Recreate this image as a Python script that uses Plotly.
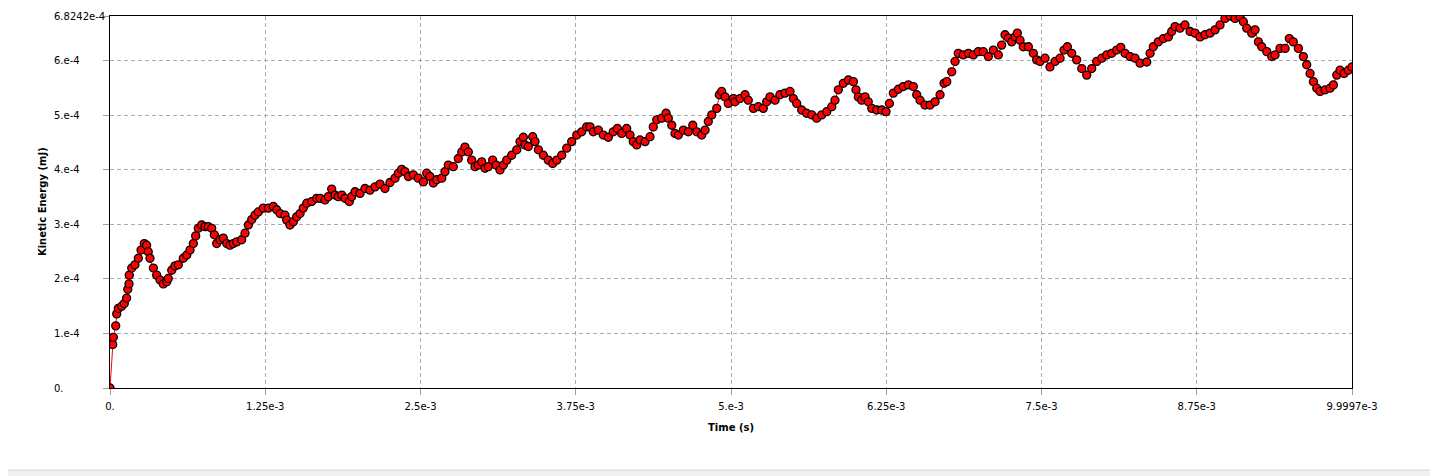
import plotly.graph_objects as go

# Time (ms) and kinetic energy (x1e-4 mJ)
time_ms = [
    0.0, 0.022, 0.027, 0.046, 0.054, 0.067, 0.094, 0.115, 0.134, 0.143,
    0.153, 0.155, 0.175, 0.201, 0.228, 0.250, 0.276, 0.295, 0.308, 0.322,
    0.349, 0.376, 0.403, 0.429, 0.457, 0.469, 0.497, 0.523, 0.550, 0.590,
    0.618, 0.644, 0.671, 0.690, 0.711, 0.738, 0.765, 0.791, 0.819, 0.840,
    0.859, 0.886, 0.912, 0.940, 0.966, 0.993, 1.020, 1.060, 1.087, 1.114,
    1.141, 1.167, 1.194, 1.234, 1.275, 1.315, 1.342, 1.369, 1.409, 1.423,
    1.449, 1.476, 1.503, 1.530, 1.556, 1.584, 1.624, 1.664, 1.691, 1.731,
    1.758, 1.785, 1.812, 1.838, 1.866, 1.892, 1.927, 1.946, 1.973, 2.013,
    2.053, 2.093, 2.134, 2.174, 2.214, 2.254, 2.295, 2.321, 2.349, 2.375,
    2.402, 2.442, 2.482, 2.523, 2.550, 2.576, 2.603, 2.630, 2.671, 2.697,
    2.724, 2.764, 2.804, 2.832, 2.858, 2.885, 2.912, 2.939, 2.965, 2.993,
    3.019, 3.046, 3.081, 3.108, 3.140, 3.167, 3.194, 3.234, 3.275, 3.301,
    3.328, 3.341, 3.368, 3.403, 3.422, 3.449, 3.489, 3.529, 3.564, 3.597,
    3.637, 3.677, 3.717, 3.758, 3.798, 3.838, 3.865, 3.891, 3.932, 3.972,
    4.012, 4.052, 4.085, 4.120, 4.160, 4.187, 4.213, 4.241, 4.267, 4.308,
    4.348, 4.374, 4.402, 4.442, 4.477, 4.495, 4.523, 4.549, 4.576, 4.616,
    4.656, 4.692, 4.724, 4.764, 4.791, 4.817, 4.845, 4.885, 4.906, 4.925,
    4.952, 4.978, 5.019, 5.032, 5.072, 5.113, 5.139, 5.180, 5.220, 5.260,
    5.287, 5.314, 5.354, 5.394, 5.435, 5.475, 5.502, 5.529, 5.569, 5.609,
    5.650, 5.690, 5.730, 5.771, 5.811, 5.837, 5.864, 5.904, 5.945, 5.985,
    6.006, 6.025, 6.052, 6.079, 6.105, 6.133, 6.173, 6.213, 6.248, 6.275,
    6.307, 6.347, 6.387, 6.428, 6.468, 6.495, 6.522, 6.562, 6.602, 6.643,
    6.683, 6.715, 6.737, 6.777, 6.804, 6.830, 6.870, 6.911, 6.951, 6.991,
    7.031, 7.072, 7.112, 7.152, 7.179, 7.206, 7.233, 7.260, 7.287, 7.305,
    7.327, 7.353, 7.394, 7.434, 7.461, 7.488, 7.528, 7.568, 7.609, 7.649,
    7.681, 7.708, 7.743, 7.783, 7.824, 7.864, 7.904, 7.944, 7.985, 8.025,
    8.065, 8.105, 8.138, 8.172, 8.213, 8.253, 8.293, 8.347, 8.374, 8.400,
    8.440, 8.481, 8.521, 8.548, 8.575, 8.615, 8.655, 8.696, 8.736, 8.776,
    8.816, 8.857, 8.897, 8.937, 8.977, 9.018, 9.058, 9.098, 9.125, 9.152,
    9.193, 9.219, 9.246, 9.273, 9.314, 9.354, 9.380, 9.420, 9.461, 9.495,
    9.527, 9.568, 9.608, 9.635, 9.662, 9.689, 9.716, 9.742, 9.783, 9.823,
    9.850, 9.877, 9.903, 9.936, 9.970, 9.9997,
]

ke_e4 = [
    0.00, 0.80, 0.93, 1.14, 1.36, 1.46, 1.50, 1.55, 1.65, 1.81,
    1.91, 2.07, 2.20, 2.26, 2.38, 2.53, 2.65, 2.62, 2.50, 2.38,
    2.20, 2.07, 1.98, 1.91, 1.95, 2.01, 2.16, 2.24, 2.26, 2.38,
    2.44, 2.53, 2.65, 2.79, 2.93, 2.99, 2.96, 2.96, 2.93, 2.81,
    2.65, 2.72, 2.75, 2.65, 2.62, 2.65, 2.68, 2.72, 2.84, 2.99,
    3.09, 3.17, 3.23, 3.30, 3.30, 3.33, 3.27, 3.20, 3.17, 3.08,
    2.99, 3.05, 3.14, 3.20, 3.30, 3.39, 3.42, 3.48, 3.48, 3.45,
    3.51, 3.65, 3.54, 3.51, 3.54, 3.48, 3.42, 3.51, 3.60, 3.57,
    3.66, 3.63, 3.69, 3.74, 3.66, 3.77, 3.85, 3.94, 4.01, 3.97,
    3.88, 3.91, 3.85, 3.78, 3.94, 3.88, 3.76, 3.82, 3.85, 3.97,
    4.09, 4.06, 4.21, 4.33, 4.42, 4.33, 4.18, 4.06, 4.09, 4.15,
    4.03, 4.06, 4.18, 4.09, 4.00, 4.09, 4.18, 4.27, 4.37, 4.52,
    4.60, 4.46, 4.43, 4.61, 4.52, 4.37, 4.27, 4.18, 4.12, 4.18,
    4.27, 4.40, 4.52, 4.64, 4.70, 4.79, 4.79, 4.70, 4.73, 4.64,
    4.60, 4.70, 4.76, 4.67, 4.76, 4.64, 4.52, 4.46, 4.55, 4.52,
    4.61, 4.79, 4.92, 4.95, 5.04, 4.95, 4.82, 4.67, 4.64, 4.73,
    4.70, 4.82, 4.70, 4.64, 4.73, 4.89, 5.01, 5.13, 5.38, 5.44,
    5.34, 5.22, 5.31, 5.25, 5.31, 5.38, 5.28, 5.13, 5.16, 5.13,
    5.25, 5.34, 5.28, 5.38, 5.41, 5.44, 5.31, 5.22, 5.10, 5.04,
    5.01, 4.95, 5.01, 5.07, 5.16, 5.28, 5.47, 5.59, 5.65, 5.62,
    5.47, 5.34, 5.28, 5.34, 5.25, 5.13, 5.10, 5.10, 5.07, 5.22,
    5.41, 5.48, 5.53, 5.56, 5.53, 5.38, 5.28, 5.19, 5.19, 5.25,
    5.38, 5.59, 5.62, 5.80, 5.99, 6.14, 6.11, 6.14, 6.11, 6.17,
    6.17, 6.08, 6.20, 6.11, 6.29, 6.48, 6.42, 6.35, 6.44, 6.51,
    6.38, 6.26, 6.26, 6.14, 6.02, 5.99, 6.05, 5.89, 5.99, 6.05,
    6.20, 6.26, 6.14, 6.02, 5.86, 5.74, 5.86, 5.99, 6.05, 6.11,
    6.14, 6.20, 6.25, 6.14, 6.08, 6.05, 5.96, 5.98, 6.14, 6.26,
    6.35, 6.41, 6.44, 6.54, 6.63, 6.60, 6.66, 6.54, 6.51, 6.44,
    6.48, 6.51, 6.57, 6.66, 6.78, 6.8242, 6.78, 6.81, 6.72, 6.60,
    6.51, 6.57, 6.35, 6.26, 6.17, 6.08, 6.11, 6.23, 6.23, 6.41,
    6.35, 6.23, 6.08, 5.93, 5.77, 5.62, 5.50, 5.44, 5.47, 5.50,
    5.56, 5.74, 5.83, 5.77, 5.83, 5.89,
]

x_ticks = [0.0, 1.25e-3, 2.5e-3, 3.75e-3, 5e-3, 6.25e-3, 7.5e-3, 8.75e-3, 9.9997e-3]
x_labels = ["0.", "1.25e-3", "2.5e-3", "3.75e-3", "5.e-3", "6.25e-3", "7.5e-3", "8.75e-3", "9.9997e-3"]
y_ticks = [0.0, 1e-4, 2e-4, 3e-4, 4e-4, 5e-4, 6e-4, 6.8242e-4]
y_labels = ["0.", "1.e-4", "2.e-4", "3.e-4", "4.e-4", "5.e-4", "6.e-4", "6.8242e-4"]

t = [v * 1e-3 for v in time_ms]
ke = [v * 1e-4 for v in ke_e4]

FONT = "DejaVu Sans"

fig = go.Figure()
fig.add_trace(go.Scatter(
    x=t, y=ke, mode="lines+markers",
    line=dict(color="#ff0000", width=1),
    marker=dict(size=8, color="#ff0000", line=dict(color="#000000", width=1.3)),
    showlegend=False,
))

# y tick labels are left aligned in the reference, so draw them as annotations
annotations = [
    dict(text=lab, x=-0.0467, xref="paper", y=val, yref="y", xanchor="left",
         yanchor="middle", showarrow=False, font=dict(family=FONT, size=10, color="#000"))
    for val, lab in zip(y_ticks, y_labels)
]
annotations.append(dict(text="<b>Kinetic Energy (mJ)</b>", x=-0.0547, xref="paper",
                        xanchor="center", y=0.5, yref="paper", yanchor="middle",
                        textangle=-90, showarrow=False,
                        font=dict(family=FONT, size=10, color="#000")))
annotations.append(dict(text="<b>Time (s)</b>", x=0.5, xref="paper", y=-0.105,
                        yref="paper", yanchor="middle", showarrow=False,
                        font=dict(family=FONT, size=10, color="#000")))

# page body has an 8px margin, so the figure is shrunk to fit the window
fig.update_layout(
    width=1430, height=468,
    margin=dict(l=102, r=86, t=8, b=88),
    paper_bgcolor="white", plot_bgcolor="white",
    font=dict(family=FONT, size=10, color="#000"),
    annotations=annotations,
    shapes=[dict(type="rect", xref="paper", yref="paper", x0=-0.2, x1=1.2,
                 y0=-0.2204, y1=-0.26, fillcolor="#f0f0f0",
                 line=dict(color="#d6d6d6", width=1), layer="below")],
)

fig.update_xaxes(
    range=[0, 9.9997e-3], tickvals=x_ticks, ticktext=x_labels,
    showgrid=True, gridcolor="#ababab", griddash="4px,3px", gridwidth=1,
    showline=True, linecolor="#000", linewidth=1, mirror=True,
    ticks="outside", ticklen=6, tickcolor="#a0a0a0", zeroline=False,
    ticklabelstandoff=3,
)
fig.update_yaxes(
    range=[0, 6.8242e-4], tickvals=y_ticks, showticklabels=False,
    showgrid=True, gridcolor="#ababab", griddash="4px,3px", gridwidth=1,
    showline=True, linecolor="#000", linewidth=1, mirror=True,
    ticks="outside", ticklen=6, tickcolor="#a0a0a0", zeroline=False,
)

fig.write_html("out.html")
